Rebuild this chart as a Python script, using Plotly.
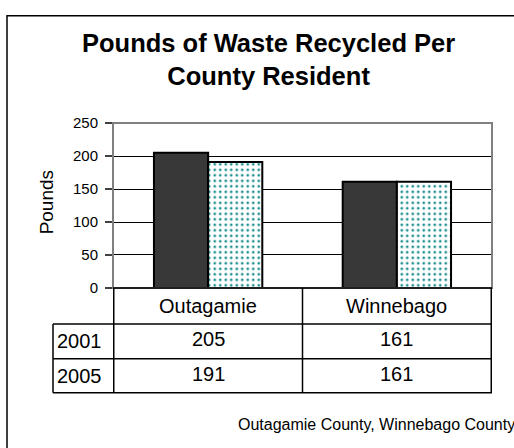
import plotly.graph_objects as go

# data
counties = ['Outagamie', 'Winnebago']
years = ['2001', '2005']
pounds_2001 = [205, 161]
pounds_2005 = [191, 161]
y_ticks = [0, 50, 100, 150, 200, 250]

W, H = 514, 448
FONT = 'Liberation Sans, Arial, sans-serif'


def px_x(v):
    return v / W


def px_y(v):
    return 1 - v / H


fig = go.Figure()
fig.add_trace(go.Bar(
    x=counties, y=pounds_2001, name=years[0],
    marker=dict(color='#383838', line=dict(color='black', width=2))
))
fig.add_trace(go.Bar(
    x=counties, y=pounds_2005, name=years[1],
    marker=dict(color='white', line=dict(color='black', width=2),
                pattern=dict(shape='.', fgcolor='#1f8f8f', bgcolor='white',
                             size=5.5, solidity=0.2, fillmode='replace'))
))

# plot area border (gray) + table grid (black)
shapes = [dict(type='rect', xref='x domain', yref='y domain', x0=0, x1=1, y0=0, y1=1,
               line=dict(color='#808080', width=2), layer='above')]
# table rows in pixel space
row_y = [290, 327.5, 363.5, 399]
left_col = (53 - 113) / (492 - 113)
for i, yy in enumerate(row_y):
    x0 = 0 if i == 0 else left_col
    shapes.append(dict(type='line', xref='x domain', yref='paper', x0=x0, x1=1,
                       y0=px_y(yy), y1=px_y(yy), line=dict(color='black', width=1.5)))
# vertical lines at category boundaries
for b in [-0.5, 0.5, 1.5]:
    shapes.append(dict(type='line', xref='x', yref='paper', x0=b, x1=b,
                       y0=px_y(row_y[-1]), y1=px_y(row_y[0]), line=dict(color='black', width=1.5)))
shapes.append(dict(type='line', xref='x domain', yref='paper', x0=left_col, x1=left_col,
                   y0=px_y(row_y[-1]), y1=px_y(row_y[1]), line=dict(color='black', width=1.5)))
# outer chart border
shapes.append(dict(type='rect', xref='paper', yref='paper', x0=px_x(7), x1=1.1,
                   y0=-0.1, y1=px_y(7), line=dict(color='black', width=1.5)))

annotations = []
# table header
for c in counties:
    annotations.append(dict(x=c, y=px_y(309), xref='x', yref='paper', text=c, showarrow=False,
                            font=dict(size=20, color='black'), yanchor='middle'))
# table rows
for yr, vals, yc in [(years[0], pounds_2001, 345.5), (years[1], pounds_2005, 381)]:
    annotations.append(dict(x=left_col + 0.005, y=px_y(yc), xref='x domain', yref='paper', text=yr,
                            showarrow=False, xanchor='left', yanchor='middle',
                            font=dict(size=20, color='black')))
    for c, v in zip(counties, vals):
        annotations.append(dict(x=c, y=px_y(yc - 2), xref='x', yref='paper', text=str(v),
                                showarrow=False, yanchor='middle', font=dict(size=20, color='black')))

# title
annotations.append(dict(x=px_x(268), y=px_y(53), xref='paper', yref='paper',
                        text='<b>Pounds of Waste Recycled Per<br>County Resident</b>',
                        showarrow=False, yanchor='middle', font=dict(size=25.5, color='black')))
# y axis title
annotations.append(dict(x=px_x(46), y=px_y(201), xref='paper', yref='paper', text='Pounds',
                        textangle=-90, showarrow=False, xanchor='center', yanchor='middle',
                        font=dict(size=19, color='black')))
# source note
annotations.append(dict(x=px_x(236), y=px_y(432), xref='paper', yref='paper',
                        text='Outagamie County, Winnebago County', showarrow=False,
                        xanchor='left', yanchor='middle', font=dict(size=16, color='black')))

fig.update_xaxes(domain=[px_x(113), px_x(492)], showticklabels=False, showgrid=False,
                 showline=False, ticks='', zeroline=False)
fig.update_yaxes(domain=[px_y(290), px_y(118.5)], range=[0, 250], tickvals=y_ticks,
                 showgrid=True, gridcolor='black', gridwidth=1, zeroline=False,
                 showline=False, ticks='outside', ticklen=7, tickcolor='#404040', tickwidth=1.5,
                 ticklabelstandoff=4, tickfont=dict(size=15, color='black'))
fig.update_layout(width=W, height=H, margin=dict(l=0, r=0, t=0, b=0),
                  barmode='group', bargap=0.426, bargroupgap=0,
                  showlegend=False, plot_bgcolor='white', paper_bgcolor='white',
                  font=dict(family=FONT, color='black'),
                  shapes=shapes, annotations=annotations)

# page body has a default 8px margin; drop it so the figure sits at the window origin
fig.write_html("out.html", config={'displayModeBar': False},
               post_script="document.body.style.margin='0';")
